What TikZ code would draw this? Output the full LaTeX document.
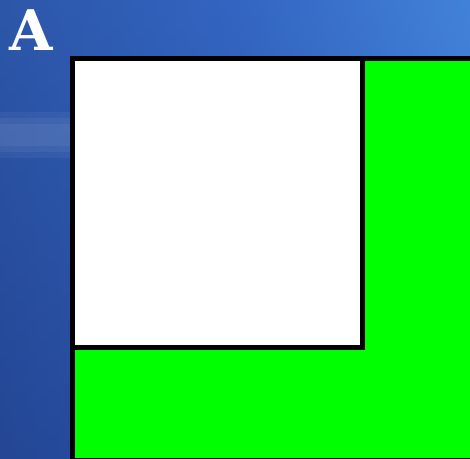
\documentclass[tikz,border=0pt]{standalone}
\usepackage{fontspec}
\usepackage{tikz}
\usetikzlibrary{positioning,calc}
\newfontfamily\labelfont{DejaVu Serif}
\definecolor{bgdark}{RGB}{36,70,148}
\definecolor{bgmid}{RGB}{46,92,186}
\definecolor{bglight}{RGB}{70,136,222}
\definecolor{regiongreen}{RGB}{0,255,0}

\begin{document}
\begin{tikzpicture}[
  x=1pt, y=-1pt,
  region/.style={draw=black, line width=5pt, fill=regiongreen},
  inner/.style={draw=black, line width=5pt, fill=white},
  panel/.style={text=white, font=\labelfont\bfseries\fontsize{56}{56}\selectfont, inner sep=0pt}
]
\useasboundingbox (0,0) rectangle (470,458);
% background
\shade[left color=bgdark, right color=bglight, middle color=bgmid] (0,0) rectangle (470,458);
\shade[top color=bglight!60!bgmid, bottom color=bgdark, opacity=0.35] (0,0) rectangle (470,458);
\foreach \h in {6,12,18} {
  \fill[white, opacity=0.05] (0,130-\h) rectangle (70,140+\h);
}
\begin{scope}
  \clip (0,0) rectangle (470,458);
  \draw[region] (72,58.5) rectangle (472,460);
  \draw[inner] (72,58.5) rectangle (362,347);
\end{scope}
\node[panel] (lbl) at (31,30) {A};
\end{tikzpicture}
\end{document}
